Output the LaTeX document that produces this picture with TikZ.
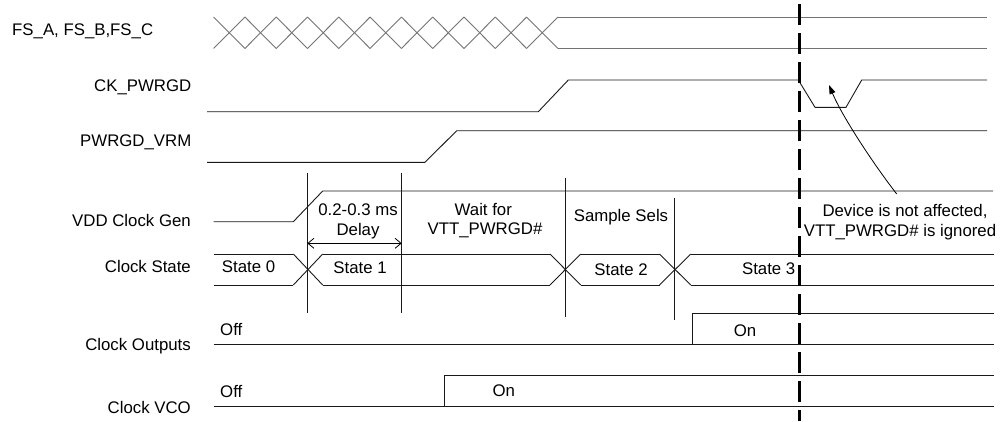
\documentclass[tikz,border=0pt]{standalone}
\usepackage{fontspec}
\setmainfont{Liberation Sans}
\usetikzlibrary{arrows.meta}
\begin{document}
\begin{tikzpicture}[x=1pt,y=-1pt,
  sig/.style={line width=0.9pt, black!90},
  fsig/.style={line width=0.9pt, black!55},
  vline/.style={line width=0.9pt, black!90},
  lbl/.style={font=\fontsize{16.8}{19}\selectfont, inner sep=0pt},
  mark line/.style={line width=2.4pt, black, dash pattern=on 21pt off 8pt},
  delayarrow/.style={line width=0.8pt, {Straight Barb[length=6pt,width=10pt]}-{Straight Barb[length=6pt,width=10pt]}},
  callout/.style={line width=0.8pt, -{Triangle[length=9pt,width=6pt]}}]
\useasboundingbox (0,0) rectangle (1008,421);

% ---------- labels ----------
\node[lbl, anchor=base west] (lfs) at (12,35.7) {FS\_A, FS\_B,FS\_C};
\node[lbl, anchor=base east] (lck) at (191.5,91.7) {CK\_PWRGD};
\node[lbl, anchor=base east] (lvrm) at (191.5,146.7) {PWRGD\_VRM};
\node[lbl, anchor=base east] (lvdd) at (191,226) {VDD Clock Gen};
\node[lbl, anchor=base east] (lst) at (191,272.7) {Clock State};
\node[lbl, anchor=base east] (lout) at (191,350.7) {Clock Outputs};
\node[lbl, anchor=base east] (lvco) at (191,413.3) {Clock VCO};

% ---------- FS_A, FS_B, FS_C ----------
\foreach \i in {0,...,10} {
  \draw[fsig] ({213.6+\i*31.3},17) -- ({213.6+(\i+1)*31.3},48.5);
  \draw[fsig] ({213.6+\i*31.3},48.5) -- ({213.6+(\i+1)*31.3},17);
}
\draw[fsig] (557.9,17) -- (987,17);
\draw[fsig] (557.9,48.5) -- (987,48.5);

% ---------- CK_PWRGD ----------
\draw[sig] (207,111.7) -- (538.3,111.7) -- (568.3,80) -- (798.3,80) -- (815,107.3)
  -- (846,107.3) -- (861.7,80) -- (987,80);

% ---------- PWRGD_VRM ----------
\draw[sig] (207,162.3) -- (425,162.3) -- (456.7,130.7) -- (987,130.7);

% ---------- VDD Clock Gen ----------
\draw[sig] (213.5,221.7) -- (293.3,221.7) -- (322.7,191) -- (993,191);

% ---------- vertical markers ----------
\coordinate (v1t) at (307.3,173.3); \coordinate (v1b) at (307.3,313.3);
\coordinate (v2t) at (401.7,173.3); \coordinate (v2b) at (401.7,313.3);
\coordinate (v3t) at (565.7,178);   \coordinate (v3b) at (565.7,316.7);
\coordinate (v4t) at (674,198);     \coordinate (v4b) at (674,320);
\draw[vline] (v1t) -- (v1b);
\draw[vline] (v2t) -- (v2b);
\draw[vline] (v3t) -- (v3b);
\draw[vline] (v4t) -- (v4b);

\coordinate (dl) at (307.3,243.3);
\coordinate (dr) at (401.7,243.3);
\draw[delayarrow] (dl) -- (dr);

\node[lbl, anchor=base] (t1) at (358,215) {0.2-0.3 ms};
\node[lbl, anchor=base] (t2) at (358,235) {Delay};
\node[lbl, anchor=base] (t3) at (483.3,215) {Wait for};
\node[lbl, anchor=base] (t4) at (485,234.3) {VTT\_PWRGD\#};
\node[lbl, anchor=base] (t5) at (621,221.7) {Sample Sels};

% ---------- Clock State ----------
\foreach \a/\b in {213.5/293.3, 322.7/550, 580.7/659.5, 690.7/994} {
  \draw[sig] (\a,254) -- (\b,254);
  \draw[sig] (\a,285) -- (\b,285);
}
\foreach \a/\b in {293.3/322.7, 550/580.7, 659.5/690.7} {
  \draw[sig] (\a,254) -- (\b,285);
  \draw[sig] (\a,285) -- (\b,254);
}
\node[lbl, anchor=base] (s0) at (248.5,272.7) {State 0};
\node[lbl, anchor=base] (s1) at (360,273.3) {State 1};
\node[lbl, anchor=base] (s2) at (621,275) {State 2};
\node[lbl, anchor=base east] (s3) at (795.5,274) {State 3};

% ---------- Clock Outputs ----------
\draw[sig] (213.5,344.3) -- (994,344.3);
\draw[sig] (692.3,344.3) -- (692.3,313.3) -- (994,313.3);
\node[lbl, anchor=base west] (off1) at (220,335) {Off};
\node[lbl, anchor=base] (on1) at (745,336.7) {On};

% ---------- Clock VCO ----------
\draw[sig] (213.5,406) -- (994,406);
\draw[sig] (444.3,406) -- (444.3,375.7) -- (994,375.7);
\node[lbl, anchor=base west] (off2) at (220,397.3) {Off};
\node[lbl, anchor=base] (on2) at (503.7,396.7) {On};

% ---------- dashed marker ----------
\coordinate (mt) at (799.3,4);
\coordinate (mb) at (799.3,421);
\draw[mark line] (mt) -- (mb);

% ---------- callout ----------
\node[lbl, anchor=base] (n1) at (905,216.7) {Device is not affected,};
\node[lbl, anchor=base] (n2) at (900,236) {VTT\_PWRGD\# is ignored};
\coordinate (cs) at (896.7,194);
\coordinate (ce) at (829,85);
\draw[callout] (cs) .. controls (872,162) and (842,116) .. (ce);
\end{tikzpicture}
\end{document}
